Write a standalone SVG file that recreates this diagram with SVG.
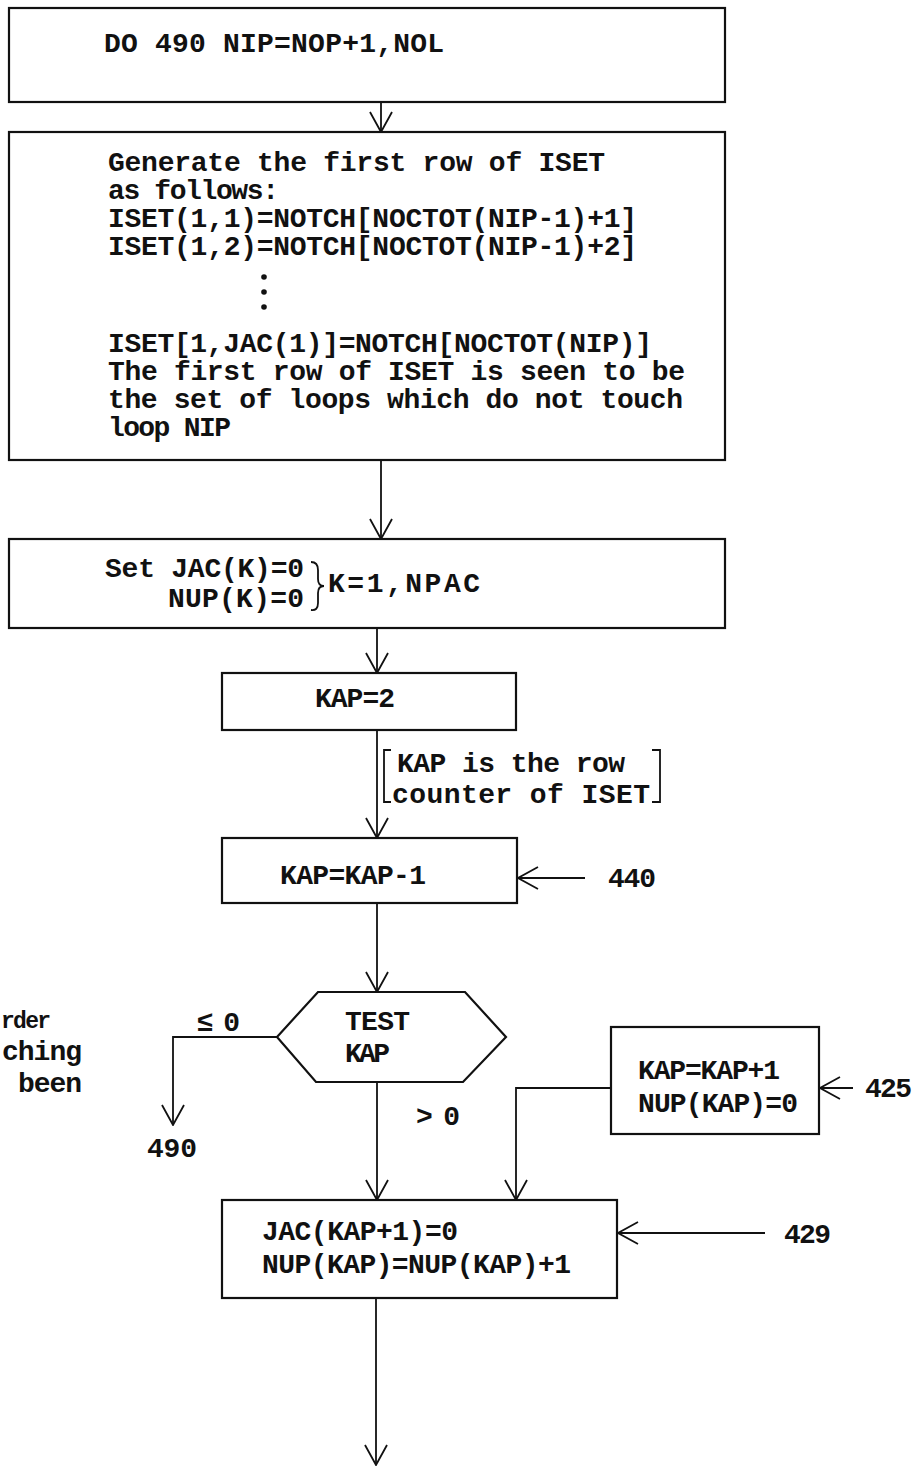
<svg xmlns="http://www.w3.org/2000/svg" width="916" height="1467" viewBox="0 0 916 1467">
<defs>
<style>
.box{fill:#fff;stroke:#111;stroke-width:2.2}
.ln{fill:none;stroke:#111;stroke-width:1.8}
.t{font-family:"Liberation Mono","DejaVu Sans Mono",monospace;font-weight:bold;font-size:28px;fill:#111}
</style>
<marker id="ah" viewBox="0 0 22 24" refX="21" refY="12" markerWidth="22" markerHeight="24" markerUnits="userSpaceOnUse" orient="auto">
<path d="M1,1 L21,12 L1,23" fill="none" stroke="#111" stroke-width="1.8"/>
</marker>
</defs>
<rect width="916" height="1467" fill="#fff"/>

<g id="connectors">
<line class="ln" x1="381" y1="102" x2="381" y2="132" marker-end="url(#ah)"/>
<line class="ln" x1="381" y1="460" x2="381" y2="539" marker-end="url(#ah)"/>
<line class="ln" x1="377" y1="628" x2="377" y2="673" marker-end="url(#ah)"/>
<line class="ln" x1="377" y1="730" x2="377" y2="838" marker-end="url(#ah)"/>
<line class="ln" x1="585" y1="878" x2="518" y2="878" marker-end="url(#ah)"/>
<line class="ln" x1="377" y1="903" x2="377" y2="992" marker-end="url(#ah)"/>
<polyline class="ln" points="277,1037 173,1037 173,1125" marker-end="url(#ah)"/>
<line class="ln" x1="377" y1="1082" x2="377" y2="1200" marker-end="url(#ah)"/>
<polyline class="ln" points="611,1088 516,1088 516,1200" marker-end="url(#ah)"/>
<line class="ln" x1="853" y1="1088" x2="820" y2="1088" marker-end="url(#ah)"/>
<line class="ln" x1="765" y1="1233" x2="618" y2="1233" marker-end="url(#ah)"/>
<line class="ln" x1="376" y1="1298" x2="376" y2="1465" marker-end="url(#ah)"/>
</g>

<g id="n_do">
<rect class="box" x="9" y="8" width="716" height="94"/>
<text class="t" x="104" y="52" textLength="340">DO 490 NIP=NOP+1,NOL</text>
</g>

<g id="n_generate">
<rect class="box" x="9" y="132" width="716" height="328"/>
<text class="t" x="108" y="171" textLength="497">Generate the first row of ISET</text>
<text class="t" x="108" y="199" textLength="171">as follows:</text>
<text class="t" x="108" y="227" textLength="529">ISET(1,1)=NOTCH[NOCTOT(NIP-1)+1]</text>
<text class="t" x="108" y="255" textLength="529">ISET(1,2)=NOTCH[NOCTOT(NIP-1)+2]</text>
<circle cx="264" cy="277" r="2.8" fill="#111"/>
<circle cx="264" cy="292" r="2.8" fill="#111"/>
<circle cx="264" cy="307" r="2.8" fill="#111"/>
<text class="t" x="108" y="352" textLength="544">ISET[1,JAC(1)]=NOTCH[NOCTOT(NIP)]</text>
<text class="t" x="108" y="380" textLength="577">The first row of ISET is seen to be</text>
<text class="t" x="108" y="408" textLength="575">the set of loops which do not touch</text>
<text class="t" x="108" y="436" textLength="123">loop NIP</text>
</g>

<g id="n_set">
<rect class="box" x="9" y="539" width="716" height="89"/>
<text class="t" x="105" y="577" textLength="199">Set JAC(K)=0</text>
<text class="t" x="168" y="607" textLength="136">NUP(K)=0</text>
<path class="ln" d="M311,562 Q318,562 318,570 L318,579 Q318,586 324,586 Q318,586 318,593 L318,603 Q318,611 311,610"/>
<text class="t" x="328" y="592" textLength="152">K=1,NPAC</text>
</g>

<g id="n_kap2">
<rect class="box" x="222" y="673" width="294" height="57"/>
<text class="t" x="315" y="707" textLength="80">KAP=2</text>
</g>

<g id="note">
<path class="ln" d="M391,750 L384,750 L384,802 L391,802"/>
<path class="ln" d="M652,750 L660,750 L660,802 L652,802"/>
<text class="t" x="397" y="772" textLength="228">KAP is the row</text>
<text class="t" x="392" y="803" textLength="258">counter of ISET</text>
</g>

<g id="n_kapm1">
<rect class="box" x="222" y="838" width="295" height="65"/>
<text class="t" x="280" y="884" textLength="146">KAP=KAP-1</text>
<text class="t" x="608" y="887" textLength="48">440</text>
</g>

<g id="n_test">
<polygon class="box" points="318,992 465,992 506,1037 463,1082 316,1082 277,1037"/>
<text class="t" x="345" y="1030" textLength="65">TEST</text>
<text class="t" x="345" y="1062" textLength="45">KAP</text>
<text class="t" x="197" y="1031" textLength="43">≤0</text>
<text class="t" x="416" y="1125" textLength="44">&gt;0</text>
<text class="t" x="147" y="1157" textLength="50">490</text>
</g>

<g id="side_text">
<text class="t" x="1" y="1028" textLength="50" style="font-size:23px">rder</text>
<text class="t" x="2" y="1060" textLength="80">ching</text>
<text class="t" x="18" y="1092" textLength="64">been</text>
</g>

<g id="n_kapp1">
<rect class="box" x="611" y="1027" width="208" height="107"/>
<text class="t" x="638" y="1079" textLength="142">KAP=KAP+1</text>
<text class="t" x="638" y="1112" textLength="160">NUP(KAP)=0</text>
<text class="t" x="865" y="1097" textLength="47">425</text>
</g>

<g id="n_jac">
<rect class="box" x="222" y="1200" width="395" height="98"/>
<text class="t" x="262" y="1240" textLength="196">JAC(KAP+1)=0</text>
<text class="t" x="262" y="1273" textLength="309">NUP(KAP)=NUP(KAP)+1</text>
<text class="t" x="784" y="1243" textLength="47">429</text>
</g>
</svg>
